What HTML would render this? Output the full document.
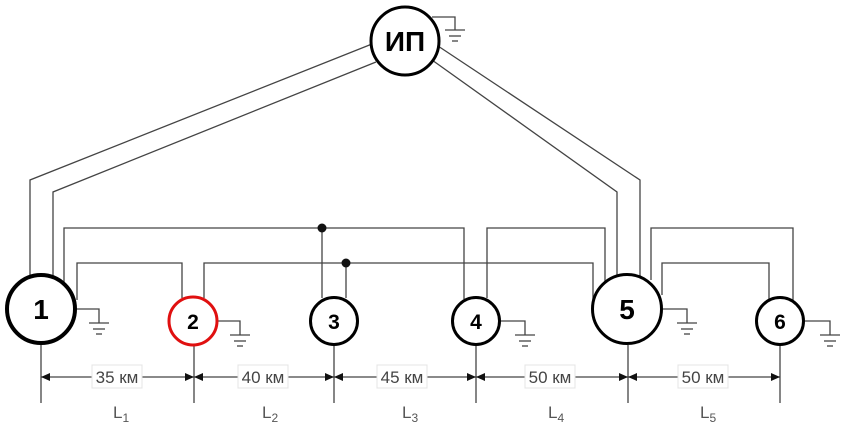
<!DOCTYPE html>
<html><head><meta charset="utf-8"><style>
html,body{margin:0;padding:0;background:#fff}
svg{display:block}
text{font-family:"Liberation Sans",Arial,sans-serif}
</style></head><body>
<svg width="853" height="444" viewBox="0 0 853 444" xmlns="http://www.w3.org/2000/svg">
<g fill="none" stroke="#444" stroke-width="1.3">
<!-- IP feeders -->
<polyline points="30,290 30,180 372,44"/>
<polyline points="53,285 53,192 376,62"/>
<polyline points="640,280 640,180 438,46"/>
<polyline points="617,276 617,192 432,60"/>
<!-- buses -->
<polyline points="64,282 64,228 464,228 464,299"/>
<polyline points="77,300 77,263 182,263 182,298"/>
<polyline points="204,298 204,263 593,263 593,300"/>
<polyline points="322,298 322,228"/>
<polyline points="346,298 346,263"/>
<polyline points="487,298 487,228 605,228 605,282"/>
<polyline points="651,280 651,228 793,228 793,300"/>
<polyline points="662,295 662,263 769,263 769,300"/>
<!-- grounds -->
<polyline points="76,309 99,309 99,323"/><line x1="89" y1="323" x2="109" y2="323"/><line x1="93" y1="329" x2="105" y2="329"/><line x1="96" y1="334" x2="102" y2="334"/>
<polyline points="218,321 240,321 240,335"/><line x1="230" y1="335" x2="250" y2="335"/><line x1="234" y1="341" x2="246" y2="341"/><line x1="237" y1="346" x2="243" y2="346"/>
<polyline points="500,321 525,321 525,335"/><line x1="515" y1="335" x2="535" y2="335"/><line x1="519" y1="341" x2="531" y2="341"/><line x1="522" y1="346" x2="528" y2="346"/>
<polyline points="663,309 687,309 687,323"/><line x1="677" y1="323" x2="697" y2="323"/><line x1="681" y1="329" x2="693" y2="329"/><line x1="684" y1="334" x2="690" y2="334"/>
<polyline points="805,321 830,321 830,335"/><line x1="820" y1="335" x2="840" y2="335"/><line x1="824" y1="341" x2="836" y2="341"/><line x1="827" y1="346" x2="833" y2="346"/>
<polyline points="432,17 455,17 455,30"/><line x1="445" y1="30" x2="465" y2="30"/><line x1="449" y1="36" x2="461" y2="36"/><line x1="452" y1="41" x2="458" y2="41"/>
<!-- dimension verticals -->
<line x1="41" y1="345" x2="41" y2="403"/>
<line x1="194" y1="346" x2="194" y2="403"/>
<line x1="334" y1="345" x2="334" y2="403"/>
<line x1="476" y1="345" x2="476" y2="403"/>
<line x1="628" y1="345" x2="628" y2="403"/>
<line x1="780" y1="345" x2="780" y2="403"/>
<line x1="41" y1="377" x2="780" y2="377"/>
</g>
<circle cx="322" cy="228" r="4.5" fill="#111"/>
<circle cx="346" cy="263" r="4.5" fill="#111"/>
<!-- arrowheads -->
<g fill="#111">
<polygon points="41,377 50,373 50,381"/><polygon points="194,377 185,373 185,381"/>
<polygon points="194,377 203,373 203,381"/><polygon points="334,377 325,373 325,381"/>
<polygon points="334,377 343,373 343,381"/><polygon points="476,377 467,373 467,381"/>
<polygon points="476,377 485,373 485,381"/><polygon points="628,377 619,373 619,381"/>
<polygon points="628,377 637,373 637,381"/><polygon points="780,377 771,373 771,381"/>
</g>
<!-- labels -->
<g fill="#fff" stroke="#e4e4e4" stroke-width="1">
<rect x="92" y="365" width="50" height="23"/>
<rect x="238" y="365" width="50" height="23"/>
<rect x="377" y="365" width="50" height="23"/>
<rect x="525" y="365" width="50" height="23"/>
<rect x="678" y="365" width="50" height="23"/>
</g>
<g fill="#444" font-size="17" text-anchor="middle">
<text x="117" y="383">35 км</text>
<text x="263" y="383">40 км</text>
<text x="402" y="383">45 км</text>
<text x="550" y="383">50 км</text>
<text x="703" y="383">50 км</text>
</g>
<g fill="#555" font-size="17">
<text x="113" y="418">L<tspan font-size="12" dy="4">1</tspan></text>
<text x="262" y="418">L<tspan font-size="12" dy="4">2</tspan></text>
<text x="402" y="418">L<tspan font-size="12" dy="4">3</tspan></text>
<text x="548" y="418">L<tspan font-size="12" dy="4">4</tspan></text>
<text x="700" y="418">L<tspan font-size="12" dy="4">5</tspan></text>
</g>
<!-- nodes -->
<g fill="#fff" stroke="#000">
<circle cx="405" cy="41" r="34" stroke-width="3"/>
<circle cx="41" cy="309" r="34" stroke-width="4"/>
<circle cx="193" cy="321" r="24" stroke="#e01010" stroke-width="3"/>
<circle cx="334" cy="321" r="23.5" stroke-width="3"/>
<circle cx="476" cy="321" r="23.5" stroke-width="3"/>
<circle cx="627" cy="309" r="34.5" stroke-width="3"/>
<circle cx="780" cy="321" r="23.5" stroke-width="3"/>
</g>
<g fill="#000" font-weight="bold" text-anchor="middle">
<text x="405" y="51" font-size="28">ИП</text>
<text x="41" y="319" font-size="28">1</text>
<text x="193" y="329" font-size="21">2</text>
<text x="334" y="329" font-size="21">3</text>
<text x="476" y="329" font-size="21">4</text>
<text x="627" y="319" font-size="28">5</text>
<text x="780" y="329" font-size="21">6</text>
</g>
</svg>
</body></html>
